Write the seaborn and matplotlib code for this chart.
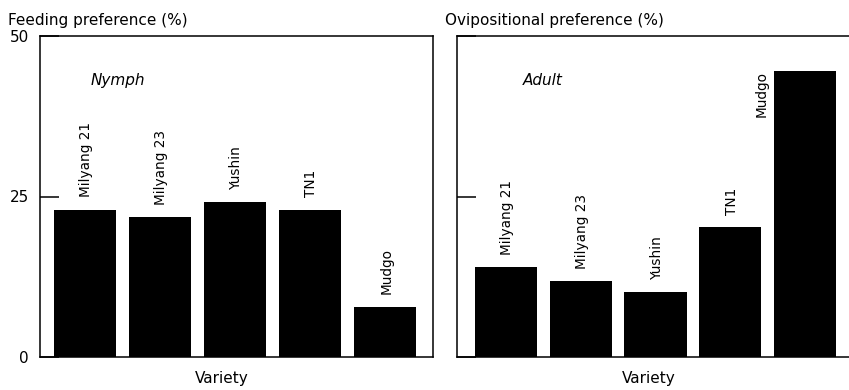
import matplotlib
matplotlib.use("Agg")
import matplotlib.pyplot as plt
import seaborn as sns

varieties = ["Milyang 21", "Milyang 23", "Yushin", "TN1", "Mudgo"]
feeding = [22.9, 21.8, 24.1, 22.9, 7.8]
oviposition = [14.0, 11.8, 10.1, 20.2, 44.5]
yticks = [0, 25, 50]
ytick_labels = ["0", "25", "50"]

sns.set_theme(style="white")
plt.rcParams["font.family"] = ["DejaVu Sans"]
plt.rcParams["text.color"] = "black"
plt.rcParams["axes.labelcolor"] = "black"
plt.rcParams["ytick.color"] = "black"

W, H = 849, 390
fig = plt.figure(figsize=(W / 100, H / 100), dpi=100)

def px_axes(x0, x1, ytop, ybot):
    return fig.add_axes([x0 / W, 1 - ybot / H, (x1 - x0) / W, (ybot - ytop) / H])

ax1 = px_axes(40, 433, 36, 357)
ax2 = px_axes(457, 854, 36, 357)

BAR_W = 0.83
panels = [
    (ax1, feeding, "Nymph", 0.07, (-0.6, 4.64), True, (222 - 40) / 393, False),
    (ax2, oviposition, "Adult", 0.23, (-0.65, 4.65), False, (649 - 457) / 397, True),
]

for ax, vals, tag, tagx, xlim, show_labels, xlab_pos, side_last in panels:
    sns.barplot(x=varieties, y=vals, ax=ax, color="black", saturation=1,
                width=BAR_W, edgecolor="black", linewidth=0)
    ax.set_xlim(*xlim)
    ax.set_ylim(0, 50)
    ax.set_yticks(yticks)
    ax.set_yticklabels(ytick_labels if show_labels else ["", "", ""], fontsize=11)
    ax.tick_params(axis="y", direction="in", length=14, width=1.1, pad=8,
                   left=True, colors="black")
    ax.set_xticks([])
    for s in ax.spines.values():
        s.set_color("black")
        s.set_linewidth(1.1)
    ax.set_xlabel("Variety", fontsize=11, color="black")
    ax.xaxis.set_label_coords(xlab_pos, -0.045)
    ax.set_ylabel("")
    n = len(varieties)
    for i, (name, v) in enumerate(zip(varieties, vals)):
        if side_last and i == n - 1:
            ax.annotate(name, (i - BAR_W / 2, v), xytext=(-4, 0),
                        textcoords="offset points", rotation=90,
                        ha="right", va="top", fontsize=9.8, color="black")
        else:
            ax.annotate(name, (i, v), xytext=(1, 9), textcoords="offset points",
                        rotation=90, ha="center", va="bottom", fontsize=9.8,
                        color="black")
    ax.text(tagx, 43.1, tag, style="italic", fontsize=11, ha="left",
            va="center", color="black")

fig.text(8 / W, 1 - 20 / H, "Feeding preference (%)", fontsize=11,
         ha="left", va="center", color="black")
fig.text(445 / W, 1 - 20 / H, "Ovipositional preference (%)", fontsize=11,
         ha="left", va="center", color="black")

fig.savefig("out.png", dpi=100)
